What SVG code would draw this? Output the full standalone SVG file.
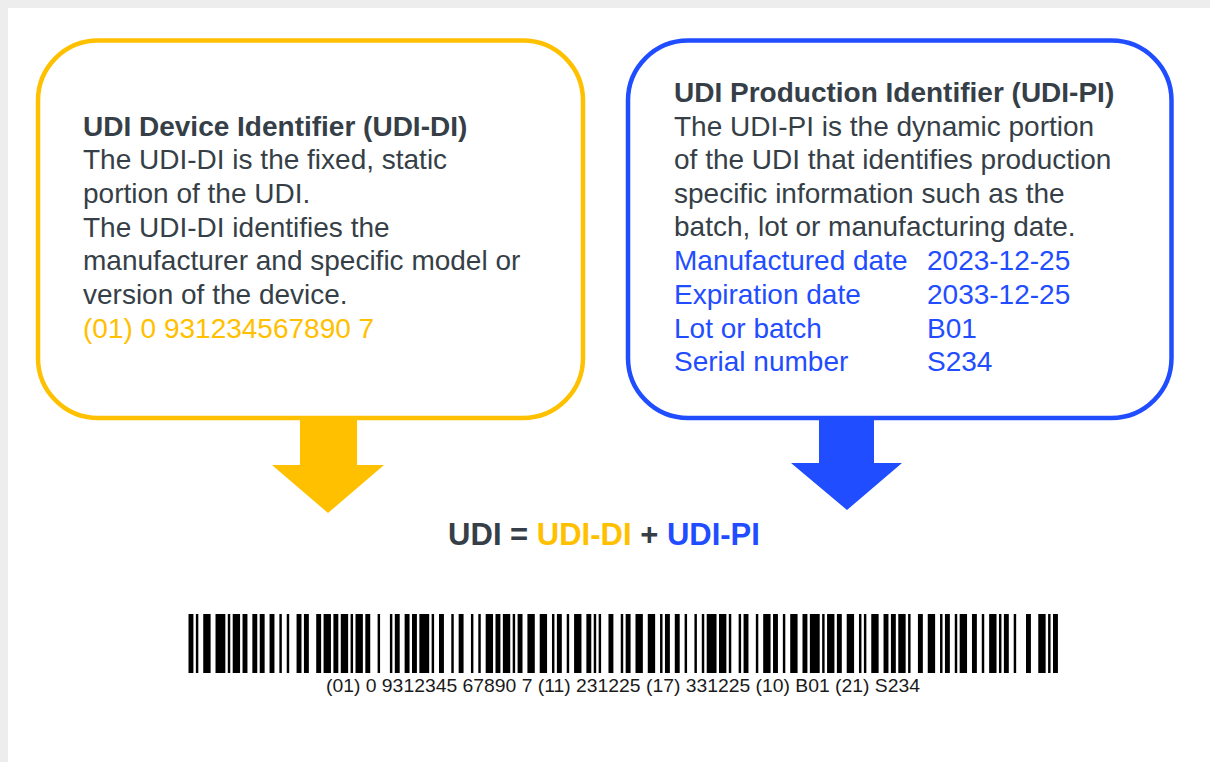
<svg xmlns="http://www.w3.org/2000/svg" width="1210" height="762" viewBox="0 0 1210 762">
<style>
.t{font-family:"Liberation Sans",Arial,sans-serif;font-size:28px;fill:#363f47}
.b{font-weight:bold}
.y{fill:#FFC000}
.bl{fill:#1f4dff}
.box{fill:#fff;stroke-width:4.5}
</style>
<rect x="0" y="0" width="1210" height="762" fill="#ededed"/>
<rect x="8" y="8" width="1202" height="754" fill="#fff"/>
<g id="di-box">
<rect class="box" x="38" y="40.5" width="545" height="377.5" rx="60" stroke="#FFC000"/>
<text class="t"><tspan class="b" x="83" y="135.5">UDI Device Identifier (UDI-DI)</tspan><tspan x="83" y="169">The UDI-DI is the fixed, static</tspan><tspan x="83" y="203">portion of the UDI.</tspan><tspan x="83" y="236.5">The UDI-DI identifies the</tspan><tspan x="83" y="270">manufacturer and specific model or</tspan><tspan x="83" y="304">version of the device.</tspan><tspan class="y" x="83" y="337.5">(01) 0 931234567890 7</tspan></text>
</g>
<g id="pi-box">
<rect class="box" x="628" y="40.5" width="543.5" height="377.5" rx="60" stroke="#1f4dff"/>
<text class="t"><tspan class="b" x="674" y="102">UDI Production Identifier (UDI-PI)</tspan><tspan x="674" y="135.5">The UDI-PI is the dynamic portion</tspan><tspan x="674" y="169">of the UDI that identifies production</tspan><tspan x="674" y="202.5">specific information such as the</tspan><tspan x="674" y="236">batch, lot or manufacturing date.</tspan></text>
<text class="t bl"><tspan x="674" y="270">Manufactured date</tspan><tspan x="674" y="304">Expiration date</tspan><tspan x="674" y="337.5">Lot or batch</tspan><tspan x="674" y="371">Serial number</tspan></text>
<text class="t bl"><tspan x="927" y="270">2023-12-25</tspan><tspan x="927" y="304">2033-12-25</tspan><tspan x="927" y="337.5">B01</tspan><tspan x="927" y="371">S234</tspan></text>
</g>
<g id="connectors">
<polygon points="300,420 357,420 357,465 384,465 328,513 272,465 300,465" fill="#FFC000"/>
<polygon points="819,420 874,420 874,463 902,463 847,510 791,463 819,463" fill="#1f4dff"/>
</g>
<g id="formula">
<text class="t b" x="604" y="545" text-anchor="middle" style="font-size:31px"><tspan>UDI = </tspan><tspan class="y">UDI-DI</tspan><tspan> + </tspan><tspan class="bl">UDI-PI</tspan></text>
</g>
<g id="barcode">
<path fill="#000" transform="translate(188.5,614) scale(2.456,1)" d="M0 0h2v59h-2zM3 0h1v59h-1zM6 0h3v59h-3zM11 0h4v59h-4zM16 0h1v59h-1zM18 0h3v59h-3zM22 0h2v59h-2zM26 0h2v59h-2zM29 0h2v59h-2zM33 0h2v59h-2zM37 0h1v59h-1zM40 0h1v59h-1zM44 0h2v59h-2zM47 0h2v59h-2zM52 0h2v59h-2zM55 0h3v59h-3zM59 0h2v59h-2zM62 0h3v59h-3zM66 0h1v59h-1zM68 0h3v59h-3zM72 0h2v59h-2zM77 0h1v59h-1zM82 0h1v59h-1zM84 0h2v59h-2zM88 0h2v59h-2zM91 0h2v59h-2zM94 0h4v59h-4zM99 0h1v59h-1zM102 0h2v59h-2zM107 0h1v59h-1zM110 0h2v59h-2zM115 0h1v59h-1zM118 0h1v59h-1zM121 0h3v59h-3zM125 0h2v59h-2zM128 0h3v59h-3zM132 0h1v59h-1zM134 0h2v59h-2zM138 0h3v59h-3zM143 0h3v59h-3zM148 0h1v59h-1zM150 0h2v59h-2zM154 0h1v59h-1zM157 0h3v59h-3zM162 0h2v59h-2zM165 0h1v59h-1zM167 0h1v59h-1zM171 0h2v59h-2zM176 0h1v59h-1zM178 0h2v59h-2zM182 0h3v59h-3zM187 0h3v59h-3zM192 0h1v59h-1zM194 0h2v59h-2zM198 0h2v59h-2zM202 0h1v59h-1zM206 0h1v59h-1zM209 0h1v59h-1zM211 0h4v59h-4zM216 0h3v59h-3zM220 0h1v59h-1zM224 0h1v59h-1zM226 0h2v59h-2zM231 0h1v59h-1zM234 0h3v59h-3zM238 0h2v59h-2zM242 0h1v59h-1zM245 0h3v59h-3zM250 0h2v59h-2zM253 0h4v59h-4zM258 0h1v59h-1zM260 0h3v59h-3zM264 0h2v59h-2zM268 0h3v59h-3zM273 0h1v59h-1zM275 0h1v59h-1zM278 0h3v59h-3zM283 0h2v59h-2zM286 0h2v59h-2zM289 0h3v59h-3zM293 0h1v59h-1zM297 0h2v59h-2zM301 0h3v59h-3zM306 0h1v59h-1zM308 0h2v59h-2zM312 0h1v59h-1zM314 0h3v59h-3zM319 0h2v59h-2zM323 0h1v59h-1zM326 0h3v59h-3zM330 0h1v59h-1zM332 0h2v59h-2zM336 0h1v59h-1zM341 0h2v59h-2zM346 0h3v59h-3zM350 0h1v59h-1zM352 0h2v59h-2z"/>
<text x="623" y="692" text-anchor="middle" textLength="594" lengthAdjust="spacingAndGlyphs" style="font-family:'Liberation Sans',Arial,sans-serif;font-size:19px;fill:#1a1a1a">(01) 0 9312345 67890 7 (11) 231225 (17) 331225 (10) B01 (21) S234</text>
</g>
</svg>
